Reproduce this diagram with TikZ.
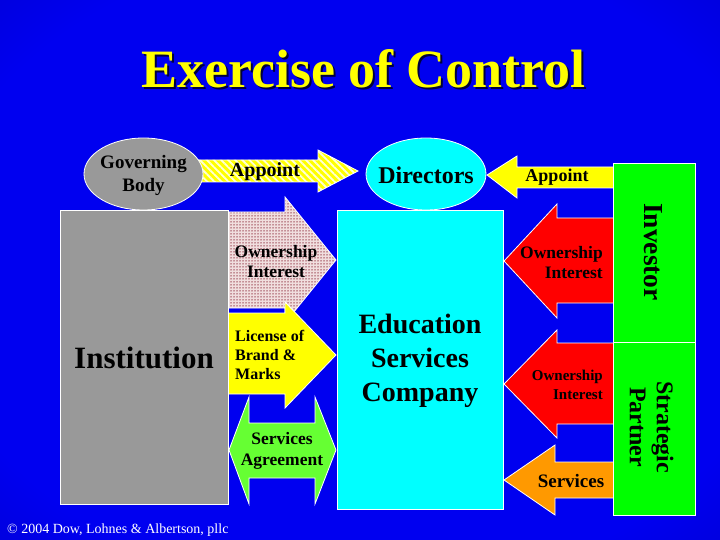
\documentclass[tikz,border=0pt]{standalone}
\usepackage{fontspec}
\setmainfont{Liberation Serif}
\usetikzlibrary{shapes.geometric,patterns.meta}
\definecolor{bgbright}{RGB}{0,0,240}
\definecolor{bgmid}{RGB}{0,0,205}
\definecolor{bgdark}{RGB}{0,0,150}
\definecolor{bgcorner}{RGB}{0,0,110}
\definecolor{boxgray}{RGB}{153,153,153}
\definecolor{boxcyan}{RGB}{0,255,255}
\definecolor{boxgreen}{RGB}{0,255,0}
\definecolor{arrgreen}{RGB}{102,255,51}
\definecolor{arrred}{RGB}{255,0,0}
\definecolor{arryellow}{RGB}{255,255,0}
\definecolor{arrorange}{RGB}{255,153,0}
\definecolor{pinkbase}{RGB}{240,222,222}
\definecolor{pinkdot}{RGB}{150,60,75}
\definecolor{stripe}{RGB}{255,255,215}
\definecolor{shadowcol}{RGB}{0,0,60}
\pgfdeclareradialshading{bgrad}{\pgfpoint{0bp}{0bp}}{color(0bp)=(bgbright); color(30bp)=(bgbright); color(42bp)=(bgmid); color(50bp)=(bgdark); color(71bp)=(bgcorner)}
\tikzset{
  outl/.style={draw=white, line width=0.8pt},
  boxnode/.style={outl, inner sep=0pt},
  lbl/.style={text=black, inner sep=0pt},
  fsz/.style={font=\bfseries\fontsize{#1}{#1}\selectfont},
}
\begin{document}
\begin{tikzpicture}[x=1pt,y=-1pt]
\useasboundingbox (0,0) rectangle (720,540);
\shade[shading=bgrad] (0,0) rectangle (720,540);

% title
\node[text=shadowcol, anchor=base, inner sep=0pt, font=\bfseries\fontsize{54}{60}\selectfont] (titleshadow) at (365.5,90) {Exercise of Control};
\node[text=arryellow, anchor=base, inner sep=0pt, font=\bfseries\fontsize{54}{60}\selectfont] (title) at (363.5,88) {Exercise of Control};

% arrows
\path[outl, pattern={Lines[angle=-45,distance=5pt,line width=1.8pt]}, pattern color=stripe, preaction={fill=arryellow}]
  (195,160) -- (318,160) -- (318,150) -- (358,171) -- (318,192) -- (318,182) -- (195,182) -- cycle;
\path[outl, fill=arryellow]
  (487,175) -- (517,156) -- (517,167) -- (620,167) -- (620,188) -- (517,188) -- (517,198) -- cycle;
\path[outl, pattern={Dots[distance=3pt,radius=0.75pt]}, pattern color=pinkdot, preaction={fill=pinkbase}]
  (226,212) -- (285,212) -- (285,197) -- (336,260) -- (285,323) -- (285,308) -- (226,308) -- cycle;
\path[outl, fill=arryellow]
  (226,313) -- (285,313) -- (285,302) -- (336,355) -- (285,408) -- (285,394) -- (226,394) -- cycle;
\path[outl, fill=arrgreen]
  (229,450) -- (249,397) -- (249,423) -- (315,423) -- (315,397) -- (336,450) -- (315,504) -- (315,478) -- (249,478) -- (249,504) -- cycle;
\path[outl, fill=arrred]
  (504,261) -- (557,204) -- (557,218) -- (615,218) -- (615,303) -- (557,303) -- (557,318) -- cycle;
\path[outl, fill=arrred]
  (504,384) -- (557,330) -- (557,343) -- (615,343) -- (615,424) -- (557,424) -- (557,438) -- cycle;
\path[outl, fill=arrorange]
  (504,480) -- (555,445) -- (555,462) -- (615,462) -- (615,498) -- (555,498) -- (555,515) -- cycle;

% ellipses
\node[boxnode, ellipse, fill=boxgray, minimum width=119pt, minimum height=72pt] (gov) at (143.5,174) {};
\node[boxnode, ellipse, fill=boxcyan, minimum width=120pt, minimum height=72pt] (dir) at (426,174) {};

% boxes
\node[boxnode, fill=boxgray, minimum width=168pt, minimum height=294pt] (inst) at (144,357) {};
\node[boxnode, fill=boxcyan, minimum width=166pt, minimum height=299pt] (esc) at (420,359.5) {};
\node[boxnode, fill=boxgreen, minimum width=82pt, minimum height=179pt] (inv) at (654,252.5) {};
\node[boxnode, fill=boxgreen, minimum width=82pt, minimum height=173pt] (sp) at (654,428.5) {};

% labels
\node[lbl, align=center, font=\bfseries\fontsize{19}{23}\selectfont] (govt) at (143.5,175) {Governing\\Body};
\node[lbl, fsz=24] (dirt) at (426,175) {Directors};
\node[lbl, fsz=20] (app1) at (265,172) {Appoint};
\node[lbl, fsz=18] (app2) at (557,177) {Appoint};
\node[lbl, fsz=31] (instt) at (144,358) {Institution};
\node[lbl, align=center, font=\bfseries\fontsize{28}{34}\selectfont] (esct) at (420,361) {Education\\Services\\Company};
\node[lbl, fsz=27.5, rotate=-90] (invt) at (653,252) {Investor};
\node[lbl, align=center, rotate=-90, font=\bfseries\fontsize{24}{27}\selectfont] (spt) at (651.5,427) {Strategic\\Partner};
\node[lbl, align=center, font=\bfseries\fontsize{17.5}{20}\selectfont] (own1) at (276,262) {Ownership\\Interest};
\node[lbl, align=left, anchor=west, font=\bfseries\fontsize{16}{19}\selectfont] (lic) at (235,355) {License of\\Brand \&\\Marks};
\node[lbl, align=center, font=\bfseries\fontsize{17.5}{21.5}\selectfont] (sat) at (282,451) {Services\\Agreement};
\node[lbl, align=right, anchor=east, font=\bfseries\fontsize{17.5}{20.5}\selectfont] (own2) at (603,262.5) {Ownership\\Interest};
\node[lbl, align=right, anchor=east, font=\bfseries\fontsize{15}{19}\selectfont] (own3) at (603,384.5) {Ownership\\Interest};
\node[lbl, fsz=19] (servt) at (571,481) {Services};
\node[text=white, inner sep=0pt, anchor=base west, font=\fontsize{14}{16}\selectfont] (copy) at (7,533) {© 2004 Dow, Lohnes \& Albertson, pllc};
\end{tikzpicture}
\end{document}
